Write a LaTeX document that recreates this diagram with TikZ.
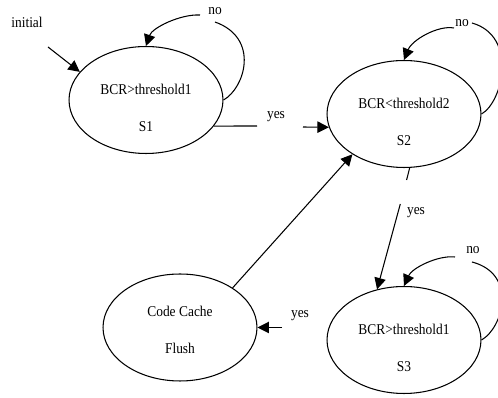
\documentclass[tikz,border=0pt]{standalone}
\usepackage{fontspec}
\setmainfont{Liberation Serif}[FakeStretch=0.9]
\usetikzlibrary{shapes.geometric,arrows.meta}

\begin{document}
\begin{tikzpicture}[x=0.02cm, y=-0.02cm, line width=0.6pt,
    >={Triangle[length=6.5pt,width=6.5pt]}]
    \useasboundingbox (0,0) rectangle (498,398);
    \clip (0,0) rectangle (498,398);
    {
        \tikzset{state/.style = {shape=ellipse, draw, inner sep=0pt, minimum width=3.08cm, minimum height=2.14cm},
                 txt/.style = {align=center, font=\fontsize{8.5}{21}\selectfont},
                 lbl/.style = {font=\fontsize{8.5}{10}\selectfont, inner sep=0pt}}

        \node[state, label={[txt, yshift=-0.16cm]center:{BCR>threshold1\\S1}}] (S1) at (146,100) {};
        \node[state, label={[txt, yshift=-0.15cm]center:{BCR<threshold2\\S2}}] (S2) at (404,114) {};
        \node[state, label={[txt, yshift=-0.16cm]center:{BCR>threshold1\\S3}}] (S3) at (404,340) {};
        \node[state, label={[txt, yshift=-0.05cm]center:{Code Cache\\Flush}}] (Flush) at (180,327.5) {};

        \node[lbl] (init) at (27,22.5) {initial};
        \node[lbl] (no1) at (215,11) {no};
        \node[lbl] (no2) at (462,23) {no};
        \node[lbl] (no3) at (473,250) {no};
        \node[lbl] (yes1) at (276,117) {yes};
        \node[lbl] (yes2) at (416,213) {yes};
        \node[lbl] (yes3) at (300,316) {yes};
    }

    % loose ends of the broken lines
    \coordinate (i0) at (48,47);
    \coordinate (n1a) at (215,22);
    \coordinate (n1b) at (200,15);
    \coordinate (n2a) at (472,23);
    \coordinate (n2b) at (454,28);
    \coordinate (n3a) at (472,262);
    \coordinate (n3b) at (455,257);
    \coordinate (y1a) at (257,126);
    \coordinate (y1b) at (303,127);
    \coordinate (y2a) at (406.6,180);
    \coordinate (y2b) at (400.3,204);
    \coordinate (y3) at (282,327.5);

    \draw[->] (i0) -- (S1.157);

    % self loops
    \draw (S1.east) .. controls (245,88) and (260,38) .. (n1a);
    \draw[->] (n1b) .. controls (180,14) and (152,28) .. (S1.north);
    \draw (S2.east) .. controls (503,102) and (518,36) .. (n2a);
    \draw[->] (n2b) .. controls (438,25) and (412,40) .. (S2.north);
    \draw (S3.east) .. controls (503,328) and (518,274) .. (n3a);
    \draw[->] (n3b) .. controls (438,255) and (412,268) .. (S3.north);

    \draw (S1.-21) -- (y1a);
    \draw[->] (y1b) -- (S2.190);
    \draw (S2.-84) -- (y2a);
    \draw[->] (y2b) -- (S3.118);
    \draw[->] (y3) -- (Flush.east);
    \draw[->] (Flush.37) -- (S2.218);

\end{tikzpicture}
\end{document}
